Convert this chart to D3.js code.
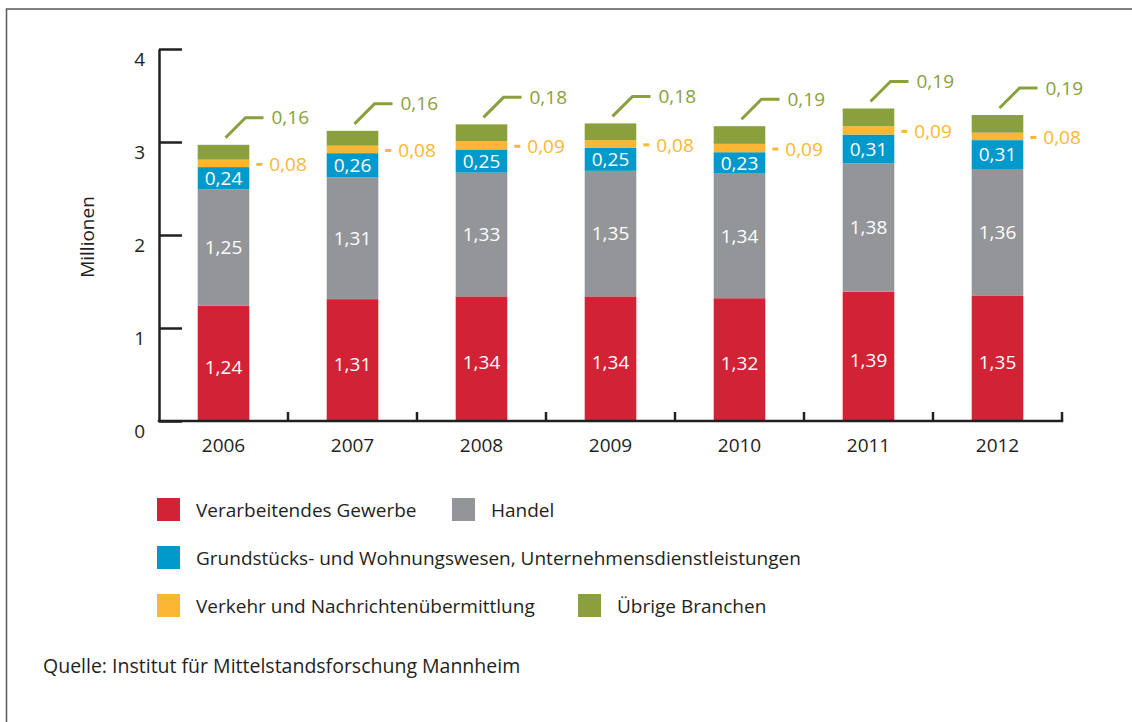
<!DOCTYPE html>
<html>
<head>
<meta charset="utf-8">
<script src="https://cdn.jsdelivr.net/npm/d3@7"></script>
<style>
  body { margin: 0; background: #fff; }
  text { font-family: "Open Sans", sans-serif; }
</style>
</head>
<body>
<div id="chart"></div>
<script>
var width = 1132;
var height = 722;

var years = ["2006", "2007", "2008", "2009", "2010", "2011", "2012"];
var verarbeitendes = [1.24, 1.31, 1.34, 1.34, 1.32, 1.39, 1.35];
var handel = [1.25, 1.31, 1.33, 1.35, 1.34, 1.38, 1.36];
var grundstuecke = [0.24, 0.26, 0.25, 0.25, 0.23, 0.31, 0.31];
var verkehr = [0.08, 0.08, 0.09, 0.08, 0.09, 0.09, 0.08];
var uebrige = [0.16, 0.16, 0.18, 0.18, 0.19, 0.19, 0.19];
var yTicks = [0, 1, 2, 3, 4];

var seriesNames = ["Verarbeitendes Gewerbe", "Handel",
  "Grundstücks- und Wohnungswesen, Unternehmensdienstleistungen",
  "Verkehr und Nachrichtenübermittlung", "Übrige Branchen"];
var colors = ["#d22236", "#939598", "#0099cc", "#fbb733", "#8aa03c"];
var textColor = "#231f20";

var locale = d3.formatLocale({decimal: ",", thousands: ".", grouping: [3], currency: ["", " €"]});
var fmt = locale.format(".2f");

var svg = d3.select("#chart").append("svg")
  .attr("width", width)
  .attr("height", height);

// frame
svg.append("rect")
  .attr("x", 6.5).attr("y", 9)
  .attr("width", width + 20).attr("height", height + 20)
  .attr("fill", "none")
  .attr("stroke", "#5a5a5a")
  .attr("stroke-width", 1.5);

var table = years.map(function (y, i) {
  return {year: y, s0: verarbeitendes[i], s1: handel[i], s2: grundstuecke[i], s3: verkehr[i], s4: uebrige[i]};
});
var keys = ["s0", "s1", "s2", "s3", "s4"];
var stacked = d3.stack().keys(keys)(table);

var x = d3.scaleBand().domain(years).range([159, 1062]).paddingInner(0);
var y = d3.scaleLinear().domain([0, 4]).range([421, 49]);
var barW = x.bandwidth() * 0.4;

// bars
stacked.forEach(function (layer, k) {
  svg.append("g").selectAll("rect")
    .data(layer)
    .join("rect")
    .attr("x", function (d) { return x(d.data.year) + (x.bandwidth() - barW) / 2; })
    .attr("y", function (d) { return y(d[1]); })
    .attr("width", barW)
    .attr("height", function (d) { return y(d[0]) - y(d[1]); })
    .attr("fill", colors[k]);
});

// labels inside bars (first three series)
[0, 1, 2].forEach(function (k) {
  svg.append("g").selectAll("text")
    .data(stacked[k])
    .join("text")
    .attr("x", function (d) { return x(d.data.year) + x.bandwidth() / 2; })
    .attr("y", function (d) { return (y(d[0]) + y(d[1])) / 2 + (k === 0 ? 4 : 0); })
    .attr("dy", "0.35em")
    .attr("text-anchor", "middle")
    .attr("fill", "#fff")
    .style("font-size", "19px")
    .text(function (d) { return fmt(d[1] - d[0]); });
});

// Verkehr labels to the right
var vk = svg.append("g").selectAll("g")
  .data(stacked[3])
  .join("g")
  .attr("transform", function (d) {
    return "translate(" + (x(d.data.year) + (x.bandwidth() + barW) / 2) + "," + ((y(d[0]) + y(d[1])) / 2 + 1) + ")";
  });
vk.append("line")
  .attr("x1", 7).attr("x2", 13).attr("y1", 0).attr("y2", 0)
  .attr("stroke", colors[3]).attr("stroke-width", 3);
vk.append("text")
  .attr("x", 20).attr("dy", "0.35em")
  .attr("fill", colors[3])
  .style("font-size", "19px")
  .text(function (d) { return fmt(d[1] - d[0]); });

// Übrige labels with leader line
var ub = svg.append("g").selectAll("g")
  .data(stacked[4])
  .join("g")
  .attr("transform", function (d) {
    return "translate(" + (x(d.data.year) + x.bandwidth() / 2) + "," + y(d[1]) + ")";
  });
ub.append("path")
  .attr("d", "M2,-7L22,-27L40,-27")
  .attr("fill", "none")
  .attr("stroke", colors[4]).attr("stroke-width", 3);
ub.append("text")
  .attr("x", 48).attr("y", -27).attr("dy", "0.35em")
  .attr("fill", colors[4])
  .style("font-size", "19px")
  .text(function (d) { return fmt(d[1] - d[0]); });

// y axis
var yAxis = svg.append("g")
  .attr("transform", "translate(159,0)")
  .call(d3.axisLeft(y).tickValues(yTicks).tickFormat(d3.format("d"))
    .tickSizeInner(-23).tickSizeOuter(0).tickPadding(14));
yAxis.select(".domain").attr("stroke", textColor).attr("stroke-width", 2.5);
yAxis.selectAll(".tick line").attr("stroke", textColor).attr("stroke-width", 2.5);
yAxis.selectAll(".tick text")
  .attr("dy", "0.85em")
  .attr("fill", textColor)
  .style("font-size", "19px")
  .style("font-family", "'Open Sans', sans-serif");

// x axis
var xAxis = svg.append("g")
  .attr("transform", "translate(0,421)")
  .call(d3.axisBottom(x).tickSize(0).tickPadding(18).tickSizeOuter(0));
xAxis.select(".domain").attr("stroke", textColor).attr("stroke-width", 2.5)
  .attr("d", "M157.75,0H1063.25");
xAxis.selectAll(".tick text")
  .attr("fill", textColor)
  .style("font-size", "19px")
  .style("font-family", "'Open Sans', sans-serif");
xAxis.append("g").selectAll("line")
  .data(years)
  .join("line")
  .attr("x1", function (d) { return x(d) + x.bandwidth(); })
  .attr("x2", function (d) { return x(d) + x.bandwidth(); })
  .attr("y1", 0).attr("y2", -9)
  .attr("stroke", textColor).attr("stroke-width", 2.5);

// y axis title
svg.append("text")
  .attr("transform", "translate(87,237) rotate(-90)")
  .attr("text-anchor", "middle")
  .attr("dy", "0.35em")
  .attr("fill", textColor)
  .style("font-size", "19px")
  .text("Millionen");

// legend
var legendPos = [[157, 498], [452, 498], [157, 546], [157, 594], [578, 594]];
var legend = svg.append("g").selectAll("g")
  .data(seriesNames)
  .join("g")
  .attr("transform", function (d, i) { return "translate(" + legendPos[i][0] + "," + legendPos[i][1] + ")"; });
legend.append("rect")
  .attr("width", 23).attr("height", 23)
  .attr("fill", function (d, i) { return colors[i]; });
legend.append("text")
  .attr("x", 39).attr("y", 12).attr("dy", "0.35em")
  .attr("fill", textColor)
  .style("font-size", "19px")
  .text(function (d) { return d; });

// source
svg.append("text")
  .attr("x", 43).attr("y", 666).attr("dy", "0.35em")
  .attr("fill", textColor)
  .style("font-size", "19.5px")
  .text("Quelle: Institut für Mittelstandsforschung Mannheim");
</script>
</body>
</html>
